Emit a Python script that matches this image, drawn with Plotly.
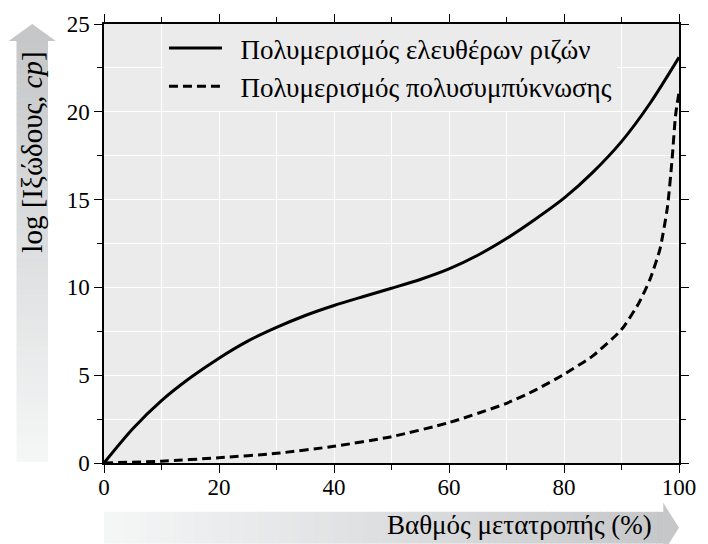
import plotly.graph_objects as go

# Data
conv_free = [0, 5, 10, 15, 20, 25, 30, 35, 40, 45, 50, 55, 60, 65, 70, 75, 80, 85, 90, 95, 100]
visc_free = [0, 1.95, 3.55, 4.85, 5.97, 6.94, 7.72, 8.40, 8.97, 9.47, 9.95, 10.45, 11.05, 11.83, 12.78, 13.88, 15.08, 16.55, 18.3, 20.5, 23.1]

conv_cond = [0, 10, 20, 30, 40, 50, 60, 70, 75, 80, 85, 90, 93, 95, 96.7, 98, 98.8, 99.4, 100]
visc_cond = [0, 0.1, 0.3, 0.55, 0.95, 1.5, 2.3, 3.4, 4.15, 5.05, 6.1, 7.6, 9.1, 10.5, 12.2, 14.6, 17.3, 19.8, 21.1]

name_free = "Πολυμερισμός ελευθέρων ριζών"
name_cond = "Πολυμερισμός πολυσυμπύκνωσης"
x_title = "Βαθμός μετατροπής (%)"
y_title = "log [Ιξώδους, <i>cp</i>]"

W, H = 708, 544
L, R, T, B = 104, 19, 22, 81
PW = W - L - R
PH = H - T - B

def px(x):
    return (x - L) / PW

def py(y):
    return (H - B - y) / PH

FONT = "Liberation Serif, 'Times New Roman', Times, serif"

fig = go.Figure()
fig.add_trace(go.Scatter(x=conv_free, y=visc_free, mode="lines", name="\u2002" + name_free,
                         line=dict(color="black", width=3, shape="spline", smoothing=0.8)))
fig.add_trace(go.Scatter(x=conv_cond, y=visc_cond, mode="lines", name="\u2002" + name_cond,
                         line=dict(color="black", width=3, dash="9px,5px", shape="spline", smoothing=0.6)))

shapes = []

def lerp_col(a, b, t):
    return "rgb(%d,%d,%d)" % tuple(round(a[i] + (b[i] - a[i]) * t) for i in range(3))

light = (245, 246, 246)
dark = (198, 199, 201)

n = 80
# horizontal arrow (x title)
x0p, x1p = 104, 673
sy0, sy1 = 512, 544
for i in range(n):
    a = x0p + (x1p - x0p) * i / n
    b = x0p + (x1p - x0p) * (i + 1) / n + 0.6
    shapes.append(dict(type="rect", xref="paper", yref="paper",
                       x0=px(a), x1=px(b), y0=py(sy1), y1=py(sy0),
                       fillcolor=lerp_col(light, dark, i / (n - 1)), line=dict(width=0), layer="below"))
shapes.append(dict(type="path", xref="paper", yref="paper",
                   path="M %f %f L %f %f L %f %f Z" % (px(673), py(503), px(689), py(528), px(673), py(553)),
                   fillcolor=lerp_col(light, dark, 1), line=dict(width=0), layer="below"))

# vertical arrow (y title)
ty0, ty1 = 462, 39
sx0, sx1 = 15, 47
for i in range(n):
    a = ty0 - (ty0 - ty1) * i / n
    b = ty0 - (ty0 - ty1) * (i + 1) / n - 0.6
    shapes.append(dict(type="rect", xref="paper", yref="paper",
                       x0=px(sx0), x1=px(sx1), y0=py(a), y1=py(b),
                       fillcolor=lerp_col(light, dark, i / (n - 1)), line=dict(width=0), layer="below"))
shapes.append(dict(type="path", xref="paper", yref="paper",
                   path="M %f %f L %f %f L %f %f Z" % (px(7), py(39), px(31), py(22), px(55), py(39)),
                   fillcolor=lerp_col(light, dark, 1), line=dict(width=0), layer="below"))

annotations = [
    dict(text=x_title, xref="paper", yref="paper", x=px(664), y=py(525),
         xanchor="right", yanchor="middle", showarrow=False,
         font=dict(family=FONT, size=27, color="black")),
    dict(text=y_title, xref="paper", yref="paper", x=px(31), y=py(48),
         xanchor="center", yanchor="top", textangle=-90, showarrow=False,
         font=dict(family=FONT, size=29, color="black")),
]

axis_common = dict(showline=True, linecolor="black", linewidth=1.5, mirror="ticks",
                   ticks="outside", ticklen=8, tickwidth=1.2, tickcolor="black",
                   gridcolor="white", gridwidth=1.2, zeroline=False,
                   tickfont=dict(family=FONT, size=23, color="black"))

fig.update_layout(
    width=W, height=H,
    margin=dict(l=L, r=R, t=T, b=B),
    paper_bgcolor="white", plot_bgcolor="#ebebec",
    font=dict(family=FONT, color="black"),
    xaxis=dict(range=[0, 100], dtick=20, tick0=0, ticklabelstandoff=-5,
               minor=dict(dtick=10, ticks="outside", ticklen=5, tickcolor="black", showgrid=True,
                          gridcolor="white", gridwidth=1.2),
               **axis_common),
    yaxis=dict(range=[0, 25], dtick=5, tick0=0,
               minor=dict(dtick=2.5, ticks="outside", ticklen=5, tickcolor="black", showgrid=True,
                          gridcolor="white", gridwidth=1.2),
               **axis_common),
    legend=dict(x=px(165), y=1, xanchor="left", yanchor="top", bgcolor="#ebebec",
                borderwidth=0, itemwidth=53,
                font=dict(family=FONT, size=27, color="black")),
    showlegend=True,
    shapes=shapes,
    annotations=annotations,
)

fig.write_html("out.html")
